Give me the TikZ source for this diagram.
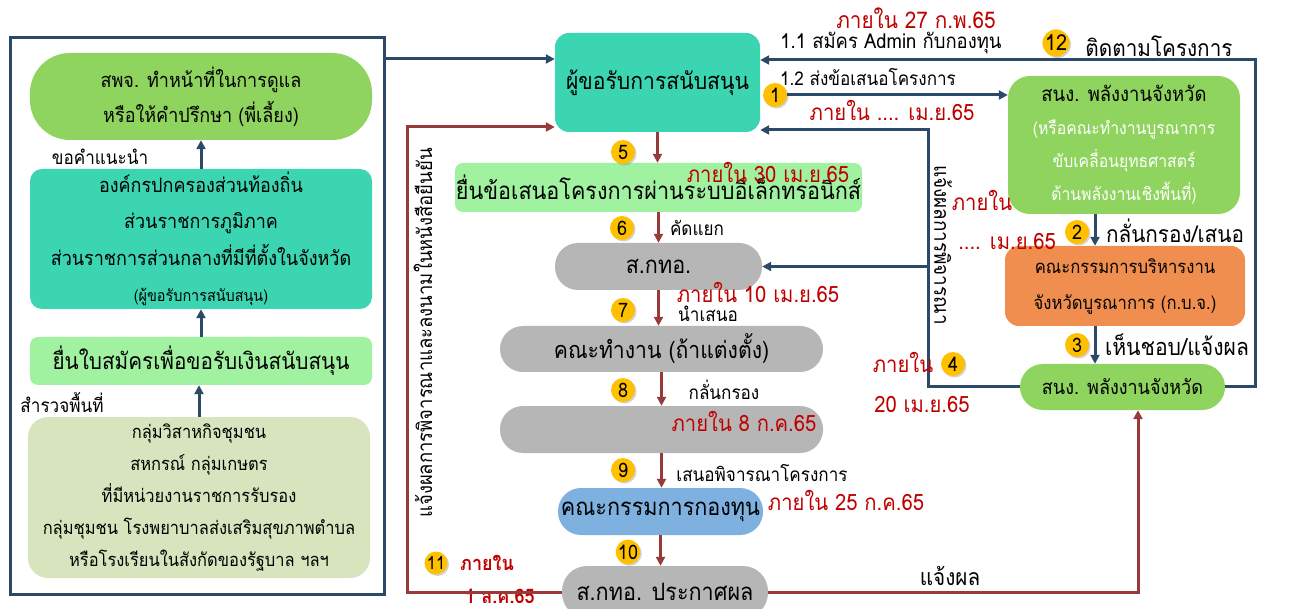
\documentclass[tikz,border=0pt]{standalone}
\usepackage{fontspec}
\setmainfont[Script=Thai,FakeStretch=0.9]{Loma}
\usetikzlibrary{arrows.meta,shadows}
\definecolor{navy}{HTML}{2C4A68}
\definecolor{darkred}{HTML}{983A3A}
\definecolor{redtxt}{HTML}{C00000}
\definecolor{tealbox}{HTML}{3CD5B2}
\definecolor{greenbox}{HTML}{8FD45E}
\definecolor{lightgreen}{HTML}{A0F2A0}
\definecolor{palegreen}{HTML}{D8E4BE}
\definecolor{orangebox}{HTML}{F08E4F}
\definecolor{graybox}{HTML}{B6B6B6}
\definecolor{bluebox}{HTML}{7EB0E0}
\definecolor{numyellow}{HTML}{FFC000}
\tikzset{
  box/.style={inner sep=0pt, align=center, text=black},
  lbl/.style={inner sep=0pt, font=\fontsize{19}{22}\selectfont, text=black},
  redlbl/.style={inner sep=0pt, font=\fontsize{22.5}{24}\selectfont, text=redtxt},
  num/.style={circle, fill=numyellow, minimum size=24pt, inner sep=0pt,
    font=\fontsize{20}{20}\selectfont,
    drop shadow={opacity=0.35, shadow xshift=1.5pt, shadow yshift=-1.5pt}},
  barrow/.style={draw=navy, line width=3pt, -{Triangle[length=9pt,width=9pt]}},
  rarrow/.style={draw=darkred, line width=3pt, -{Triangle[length=9pt,width=9pt]}},
}
\begin{document}
\begin{tikzpicture}[x=1pt,y=-1pt]
\useasboundingbox (0,0) rectangle (1293,609);
\clip (0,0) rectangle (1293,609);
\fill[white] (0,0) rectangle (1293,609);

% left frame
\node[draw=navy, line width=3pt, minimum width=374pt, minimum height=556pt, inner sep=0pt] (frame) at (197,316) {};

% left boxes
\node[box, fill=greenbox, rounded corners=40pt, minimum width=342pt, minimum height=87pt,
  font=\fontsize{20}{35}\selectfont] (A) at (201,96.5)
  {สพจ. ทำหน้าที่ในการดูแล\\หรือให้คำปรึกษา (พี่เลี้ยง)};
\node[box, fill=tealbox, rounded corners=12pt, minimum width=342pt, minimum height=140pt,
  font=\fontsize{20}{36.5}\selectfont] (B) at (201,239)
  {องค์กรปกครองส่วนท้องถิ่น\\ส่วนราชการภูมิภาค\\ส่วนราชการส่วนกลางที่มีที่ตั้งในจังหวัด\\{\fontsize{16}{18}\selectfont(ผู้ขอรับการสนับสนุน)}};
\node[box, fill=lightgreen, rounded corners=8pt, minimum width=342pt, minimum height=48pt,
  font=\fontsize{23}{26}\selectfont] (C) at (201,361)
  {ยื่นใบสมัครเพื่อขอรับเงินสนับสนุน};
\node[box, fill=palegreen, rounded corners=20pt, minimum width=342pt, minimum height=161pt,
  font=\fontsize{18.3}{32}\selectfont] (D) at (199,497.5)
  {กลุ่มวิสาหกิจชุมชน\\สหกรณ์ กลุ่มเกษตร\\ที่มีหน่วยงานราชการรับรอง\\กลุ่มชุมชน โรงพยาบาลส่งเสริมสุขภาพตำบล\\หรือโรงเรียนในสังกัดของรัฐบาล ฯลฯ};

\node[lbl] (lk) at (100,157) {ขอคำแนะนำ};
\node[lbl] (ls) at (62,402) {สำรวจพื้นที่};

\draw[barrow] (B.north) -- (A.south);
\draw[barrow] (C.north) -- (B.south);
\draw[barrow] (D.north) -- (D.north |- C.south);

% centre column
\node[box, fill=tealbox, rounded corners=14pt, minimum width=205pt, minimum height=99pt,
  font=\fontsize{23.5}{26}\selectfont] (E) at (657.5,82.5) {ผู้ขอรับการสนับสนุน};
\node[box, fill=lightgreen, rounded corners=8pt, minimum width=407pt, minimum height=49pt,
  font=\fontsize{24}{26}\selectfont] (H) at (658.5,187.5) {ยื่นข้อเสนอโครงการผ่านระบบอิเล็กทรอนิกส์};
\node[box, fill=graybox, rounded corners=23pt, minimum width=207pt, minimum height=47pt,
  font=\fontsize{24}{26}\selectfont] (I) at (658.5,266.5) {ส.กทอ.};
\node[box, fill=graybox, rounded corners=23pt, minimum width=323pt, minimum height=46pt,
  font=\fontsize{23.5}{26}\selectfont] (J) at (661.5,349) {คณะทำงาน (ถ้าแต่งตั้ง)};
\node[box, fill=graybox, rounded corners=23pt, minimum width=323pt, minimum height=47pt] (K) at (661.5,429.5) {};
\node[box, fill=bluebox, rounded corners=23pt, minimum width=205pt, minimum height=47pt,
  font=\fontsize{24}{26}\selectfont] (L) at (660.5,511.5) {คณะกรรมการกองทุน};
\node[box, fill=graybox, rounded corners=25pt, minimum width=206pt, minimum height=52pt,
  font=\fontsize{24}{26}\selectfont] (M) at (665,592) {ส.กทอ. ประกาศผล};

\draw[rarrow] (E.south) -- (E.south |- H.north);
\draw[rarrow] (H.south) -- (H.south |- I.north);
\draw[rarrow] (I.south) -- (I.south |- J.north);
\draw[rarrow] (J.south) -- (J.south |- K.north);
\draw[rarrow] (K.south) -- (K.south |- L.north);
\draw[rarrow] (L.south) -- (L.south |- M.north);

\node[num] (n5) at (623,152) {5};
\node[num] (n6) at (622,228) {6};
\node[num] (n7) at (623,310) {7};
\node[num] (n8) at (623,390) {8};
\node[num] (n9) at (623,470) {9};
\node[num] (n10) at (628,552) {10};

\node[lbl] (t6) at (697,228) {คัดแยก};
\node[lbl] (t7) at (708,314) {นำเสนอ};
\node[lbl] (t8) at (724,390) {กลั่นกรอง};
\node[lbl] (t9) at (762,473) {เสนอพิจารณาโครงการ};

\node[redlbl] (d5) at (768,172) {ภายใน 30 เม.ย.65};
\node[redlbl] (d7) at (758,292) {ภายใน 10 เม.ย.65};
\node[redlbl] (d8) at (744,421) {ภายใน 8 ก.ค.65};
\node[redlbl] (d9) at (846,500) {ภายใน 25 ก.ค.65};

% frame -> applicant
\coordinate (y59) at (0,59);
\draw[barrow] (frame.east |- y59) -- (E.west |- y59);

% left red loop
\node[redlbl, font=\bfseries\fontsize{20}{22}\selectfont] (d11b) at (500,596) {1 ส.ค.65};
\coordinate (lr) at (407,127);
\draw[rarrow] (M.west) -| (lr) -- (lr -| E.west);
\node[inner sep=0pt, rotate=90, font=\fontsize{20.5}{22}\selectfont] (vt1) at (423,333)
  {แจ้งผลการพิจารณาและลงนามในหนังสือยืนยัน};
\node[num, minimum size=23pt, font=\fontsize{18}{18}\selectfont] (n11) at (436,563) {11};
\node[redlbl, font=\bfseries\fontsize{20}{22}\selectfont] (d11a) at (487,563) {ภายใน};

% right column
\node[box, fill=greenbox, rounded corners=22pt, minimum width=232pt, minimum height=138pt,
  font=\fontsize{17.5}{33}\selectfont] (F1) at (1124,145)
  {{\fontsize{20.5}{22}\selectfont สนง. พลังงานจังหวัด}\\\textcolor{white}{(หรือคณะทำงานบูรณาการ}\\\textcolor{white}{ขับเคลื่อนยุทธศาสตร์}\\\textcolor{white}{ด้านพลังงานเชิงพื้นที่)}};
\node[box, fill=orangebox, rounded corners=14pt, minimum width=240pt, minimum height=80pt,
  font=\fontsize{18.5}{36}\selectfont] (G) at (1125,286)
  {คณะกรรมการบริหารงาน\\จังหวัดบูรณาการ (ก.บ.จ.)};
\node[box, fill=greenbox, rounded corners=23pt, minimum width=205pt, minimum height=46pt,
  font=\fontsize{20}{22}\selectfont] (F2) at (1122.5,387) {สนง. พลังงานจังหวัด};

\coordinate (ax) at (1095,0);
\draw[barrow] (F1.south -| ax) -- (G.north -| ax);
\draw[barrow] (G.south -| ax) -- (F2.north -| ax);
\node[num] (n2) at (1077,232) {2};
\node[num] (n3) at (1077,345) {3};
\node[lbl, font=\fontsize{23}{24}\selectfont] (t2) at (1175,231) {กลั่นกรอง/เสนอ};
\node[lbl, font=\fontsize{23.5}{24}\selectfont] (t3) at (1177,345) {เห็นชอบ/แจ้งผล};

% step 1
\node[num] (n1) at (775,95) {1};
\draw[barrow] (n1.east) -- (n1 -| F1.west);
\node[lbl] (t12) at (868,77) {1.2 ส่งข้อเสนอโครงการ};
\node[redlbl] (d12) at (892,110) {ภายใน .... เม.ย.65};

% 1.1 / 12 loop
\coordinate (r12) at (1255,60);
\draw[barrow] (F2.east) -| (r12) -- (E.east |- r12);
\node[redlbl, font=\fontsize{23}{24}\selectfont] (d11) at (916,18) {ภายใน 27 ก.พ.65};
\node[lbl, font=\fontsize{20.5}{22}\selectfont] (t11) at (891,43) {1.1 สมัคร Admin กับกองทุน};
\node[num, minimum size=27pt, font=\fontsize{22}{22}\selectfont] (n12) at (1056,43) {12};
\node[inner sep=0pt, font=\fontsize{23}{24}\selectfont] (t12b) at (1159,46) {ติดตามโครงการ};

% step 4 loop
\coordinate (lc) at (928,130);
\draw[barrow] (F2.west) -| (lc) -- (E.east |- lc);
\draw[barrow] (lc |- I.east) -- (I.east);
\node[inner sep=0pt, rotate=-90, font=\fontsize{21}{22}\selectfont] (vt2) at (943,245) {แจ้งผลการพิจารณา};
\node[redlbl] (d4a) at (982,200) {ภายใน};
\node[redlbl] (d4b) at (1007,241) {.... เม.ย.65};
\node[redlbl] (d4c) at (903,362) {ภายใน};
\node[num] (n4) at (953,364) {4};
\node[redlbl] (d4d) at (922,404) {20 เม.ย.65};

% announce -> province
\coordinate (rx) at (1138,0);
\draw[rarrow] (M.east) -| (rx |- F2.south);
\node[inner sep=0pt, font=\fontsize{23}{24}\selectfont] (tr) at (950,576) {แจ้งผล};
\end{tikzpicture}
\end{document}
